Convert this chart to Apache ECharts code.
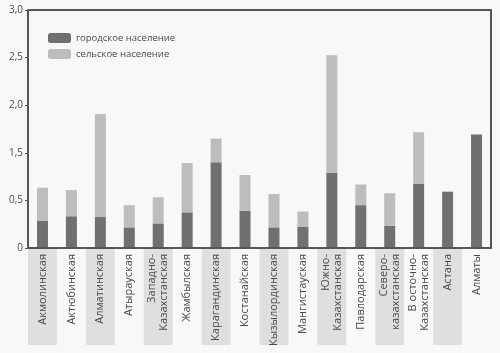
<!DOCTYPE html>
<html>
<head>
<meta charset="utf-8">
<script src="https://cdn.jsdelivr.net/npm/echarts@6/dist/echarts.min.js"></script>
<style>
html,body{margin:0;padding:0;background:#f7f8f8;}
#c{width:500px;height:353px;}
</style>
</head>
<body>
<div id="c"></div>
<script>
const categories = ["Акмолинская","Актюбинская","Алматинская","Атырауская","Западно-\nКазахстанская","Жамбылская","Карагандинская","Костанайская","Кызылординская","Мангистауская","Южно-\nКазахстанская","Павлодарская","Северо-\nказахстанская","В осточно-\nКазахстанская","Астана","Алматы"];
const urban = [0.34,0.40,0.39,0.26,0.31,0.45,1.08,0.47,0.26,0.27,0.95,0.54,0.28,0.81,0.71,1.43];
const rural = [0.42,0.33,1.30,0.28,0.33,0.62,0.30,0.45,0.42,0.19,1.48,0.26,0.41,0.65,0,0];
const yTickLabels = ["0","0,5","1,5","2,0","2,5","3,0"];
const seriesNames = ["городское население","сельское население"];
const yMax = 3;

const chart = echarts.init(document.getElementById('c'));
const txt = '#4a4a4a';
const frame = {color: '#555', width: 2};
chart.setOption({
  backgroundColor: '#f7f8f8',
  animation: false,
  textStyle: {fontFamily: 'Open Sans, DejaVu Sans, sans-serif'},
  legend: {
    orient: 'vertical', left: 43, top: 28, itemWidth: 23, itemHeight: 10, itemGap: 6,
    textStyle: {fontSize: 9.5, color: txt},
    data: seriesNames
  },
  grid: [
    {left: 28, right: 9, top: 10, bottom: 105},
    {left: 28, right: 9, top: 249, bottom: 8}
  ],
  xAxis: [
    {type: 'category', data: categories, gridIndex: 0, z: 10,
     axisLine: {lineStyle: frame}, axisTick: {show: false},
     axisLabel: {rotate: 90, interval: 0, fontSize: 11, color: txt, margin: 6, lineHeight: 12}},
    {type: 'category', data: categories, gridIndex: 1, z: -1,
     axisLine: {show: false}, axisTick: {show: false}, axisLabel: {show: false},
     splitArea: {show: true, interval: 0, areaStyle: {color: ['#dedfdf', 'rgba(255,255,255,0)']}}}
  ],
  yAxis: [
    {type: 'value', gridIndex: 0, min: 0, max: yMax, interval: 0.6,
     axisLine: {show: true, lineStyle: frame},
     axisTick: {show: true, length: 3, lineStyle: {color: '#555'}},
     splitLine: {show: false},
     axisLabel: {fontSize: 10, color: txt, margin: 5,
       formatter: function (v) { return yTickLabels[Math.round(v / 0.6)]; }}},
    {type: 'value', gridIndex: 0, position: 'right', min: 0, max: yMax, interval: 0.6,
     axisLine: {show: true, lineStyle: frame}, axisTick: {show: false},
     axisLabel: {show: false}, splitLine: {show: false}},
    {type: 'value', gridIndex: 1, show: false}
  ],
  series: [
    {name: seriesNames[0], type: 'bar', stack: 'a', data: urban, barWidth: 11,
     itemStyle: {color: '#6f7070'},
     markLine: {silent: true, symbol: 'none', label: {show: false},
       lineStyle: {color: '#555', width: 2, type: 'solid'},
       data: [{yAxis: yMax}]}},
    {name: seriesNames[1], type: 'bar', stack: 'a', data: rural, barWidth: 11,
     itemStyle: {color: '#bcbdbd'}}
  ]
});
</script>
</body>
</html>
